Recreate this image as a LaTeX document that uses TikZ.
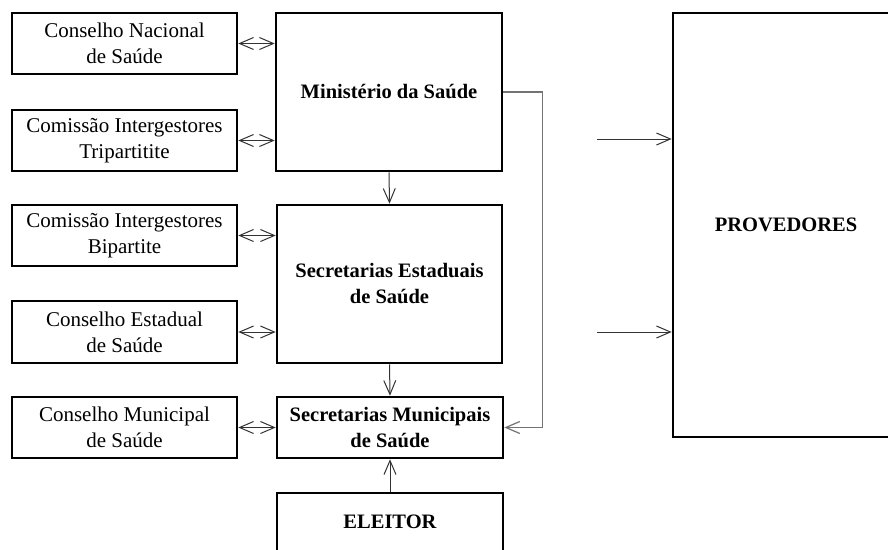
\documentclass[tikz,border=0pt]{standalone}
\usepackage{fontspec}
\setmainfont{Liberation Serif}
\usetikzlibrary{arrows.meta}
\begin{document}
\begin{tikzpicture}[x=1pt,y=-1pt,
  box/.style={draw=black,line width=2.6pt,inner sep=0pt,align=center,
    font=\fontsize{21}{26}\selectfont},
  bbox/.style={box,font=\fontsize{20.5}{26}\selectfont\bfseries},
  tip/.tip={Straight Barb[length=14pt,width=12pt]},
  link/.style={draw=black!80,line width=1pt,-tip},
  dlink/.style={draw=black!80,line width=1pt,tip-tip},
  glink/.style={draw=black!55,line width=1.2pt,-tip}]
\clip (0,0) rectangle (888,549);
\fill[white] (0,0) rectangle (888,549);
% left boxes
\node[box,minimum width=225pt,minimum height=61pt] (cns) at (124.5,43.5) {Conselho Nacional\\de Saúde};
\node[box,minimum width=225pt,minimum height=61pt] (cit) at (124.5,140.5) {Comissão Intergestores\\Tripartitite};
\node[box,minimum width=225pt,minimum height=61pt] (cib) at (124.5,235.5) {Comissão Intergestores\\Bipartite};
\node[box,minimum width=225pt,minimum height=62pt] (ces) at (124.5,332) {Conselho Estadual\\de Saúde};
\node[box,minimum width=225pt,minimum height=61pt] (cms) at (124.5,427.5) {Conselho Municipal\\de Saúde};
% central boxes
\node[bbox,minimum width=226pt,minimum height=158pt] (min) at (389,92) {Ministério da Saúde};
\node[bbox,minimum width=225pt,minimum height=158pt] (est) at (389.5,284) {Secretarias Estaduais\\de Saúde};
\node[bbox,minimum width=226pt,minimum height=61pt] (mun) at (390,427.5) {Secretarias Municipais\\de Saúde};
\node[bbox,minimum width=226pt,minimum height=58pt] (ele) at (390,522) {ELEITOR};
% providers
\node[bbox,minimum width=226pt,minimum height=424pt] (prov) at (786,225) {PROVEDORES};
% double arrows
\draw[dlink] (cns.east) -- (cns.east -| min.west);
\draw[dlink] (cit.east) -- (cit.east -| min.west);
\draw[dlink] (cib.east) -- (cib.east -| est.west);
\draw[dlink] (ces.east) -- (ces.east -| est.west);
\draw[dlink] (cms.east) -- (cms.east -| mun.west);
% vertical arrows
\draw[link] (min.south) -- (est.north);
\draw[link] (est.south) -- (mun.north);
\draw[link] (ele.north) -- (mun.south);
% right connector
\draw[glink] (min.east) -- ++(39,0) |- (mun.east);
% arrows to providers
\coordinate (p1) at (597,139);
\coordinate (p2) at (597,332);
\draw[link] (p1) -- (p1 -| prov.west);
\draw[link] (p2) -- (p2 -| prov.west);
\end{tikzpicture}
\end{document}
